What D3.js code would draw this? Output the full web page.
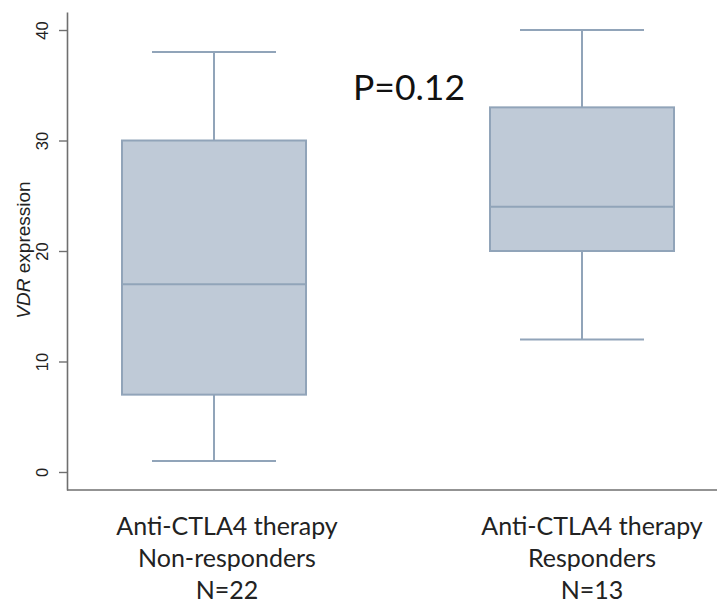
<!DOCTYPE html>
<html>
<head>
<meta charset="utf-8">
<script src="https://cdn.jsdelivr.net/npm/d3@7"></script>
<style>
  body { margin: 0; background: #fff; }
  svg { display: block; }
</style>
</head>
<body>
<div id="chart"></div>
<script>
// box plot summaries
const groups = ["Non-responders", "Responders"];
const whiskerLow = [1, 12];
const q1 = [7, 20];
const median = [17, 24];
const q3 = [30, 33];
const whiskerHigh = [38, 40];

const yTicks = [0, 10, 20, 30, 40];

const groupLabels = [
    ["Anti-CTLA4 therapy", "Non-responders", "N=22"],
    ["Anti-CTLA4 therapy", "Responders", "N=13"]
];
const pText = "P=0.12";

const W = 717, H = 605;
const margin = {top: 12, right: 0, bottom: 115, left: 67};
const width = W - margin.left - margin.right;
const height = H - margin.top - margin.bottom;

const svg = d3.select("#chart").append("svg")
    .attr("width", W)
    .attr("height", H);

const g = svg.append("g")
    .attr("transform", `translate(${margin.left}, ${margin.top})`);

// scales
const x = d3.scalePoint()
    .domain(groups)
    .range([147, 515]);

const y = d3.scaleLinear()
    .domain([-1.63, 41.63])
    .range([height, 0]);

const boxW = 184, capW = 124;

// y axis
const yAxis = d3.axisLeft(y)
    .tickValues(yTicks)
    .tickSize(8)
    .tickSizeOuter(0)
    .tickPadding(0);

const yAxisGroup = g.append("g").attr("class", "y-axis").call(yAxis);
yAxisGroup.select(".domain").attr("stroke", "#6f6f6f").attr("stroke-width", 1.6);
yAxisGroup.selectAll(".tick line").attr("stroke", "#6f6f6f").attr("stroke-width", 1.4);
yAxisGroup.selectAll(".tick text")
    .attr("x", null).attr("dy", null)
    .attr("transform", "translate(-19, 0) rotate(-90)")
    .attr("text-anchor", "middle")
    .attr("fill", "#222")
    .style("font-family", "'Liberation Sans', Arial, sans-serif")
    .style("font-size", "16.5px");

// x axis line (no ticks)
g.append("line")
    .attr("x1", 0).attr("x2", width)
    .attr("y1", height).attr("y2", height)
    .attr("stroke", "#6f6f6f")
    .attr("stroke-width", 1.6);

// axis title
const yTitle = svg.append("text")
    .attr("transform", `translate(30, ${margin.top + 238}) rotate(-90)`)
    .attr("text-anchor", "middle")
    .attr("fill", "#222")
    .style("font-family", "'Liberation Sans', Arial, sans-serif")
    .style("font-size", "19px");
yTitle.append("tspan").style("font-style", "italic").text("VDR");
yTitle.append("tspan").text(" expression");

// boxes
const boxColor = "#bfcad7", lineColor = "#91a4b9";

const box = g.selectAll(".box")
    .data(groups)
    .enter().append("g")
    .attr("class", "box");

// whiskers
box.append("line")
    .attr("x1", d => x(d)).attr("x2", d => x(d))
    .attr("y1", (d, i) => y(whiskerHigh[i]))
    .attr("y2", (d, i) => y(q3[i]))
    .attr("stroke", lineColor).attr("stroke-width", 2);

box.append("line")
    .attr("x1", d => x(d)).attr("x2", d => x(d))
    .attr("y1", (d, i) => y(q1[i]))
    .attr("y2", (d, i) => y(whiskerLow[i]))
    .attr("stroke", lineColor).attr("stroke-width", 2);

// caps
box.append("line")
    .attr("x1", d => x(d) - capW / 2).attr("x2", d => x(d) + capW / 2)
    .attr("y1", (d, i) => y(whiskerHigh[i]))
    .attr("y2", (d, i) => y(whiskerHigh[i]))
    .attr("stroke", lineColor).attr("stroke-width", 2);

box.append("line")
    .attr("x1", d => x(d) - capW / 2).attr("x2", d => x(d) + capW / 2)
    .attr("y1", (d, i) => y(whiskerLow[i]))
    .attr("y2", (d, i) => y(whiskerLow[i]))
    .attr("stroke", lineColor).attr("stroke-width", 2);

// box body
box.append("rect")
    .attr("x", d => x(d) - boxW / 2)
    .attr("width", boxW)
    .attr("y", (d, i) => y(q3[i]))
    .attr("height", (d, i) => y(q1[i]) - y(q3[i]))
    .attr("fill", boxColor)
    .attr("stroke", lineColor)
    .attr("stroke-width", 2);

// median
box.append("line")
    .attr("x1", d => x(d) - boxW / 2).attr("x2", d => x(d) + boxW / 2)
    .attr("y1", (d, i) => y(median[i]))
    .attr("y2", (d, i) => y(median[i]))
    .attr("stroke", lineColor).attr("stroke-width", 2);

// p value
svg.append("text")
    .attr("x", 409)
    .attr("y", 100)
    .attr("text-anchor", "middle")
    .attr("fill", "#111")
    .style("font-family", "Lato, 'Open Sans', sans-serif")
    .style("font-size", "35.5px")
    .text(pText);

// group labels below the axis
const labelX = [227, 592];
groupLabels.forEach(function(lines, i) {
    const t = svg.append("text")
        .attr("text-anchor", "middle")
        .attr("fill", "#222")
        .style("font-family", "Lato, 'Open Sans', sans-serif")
        .style("font-size", "25px");
    lines.forEach(function(s, j) {
        t.append("tspan")
            .attr("x", labelX[i])
            .attr("y", 535 + j * 32)
            .text(s);
    });
});
</script>
</body>
</html>
